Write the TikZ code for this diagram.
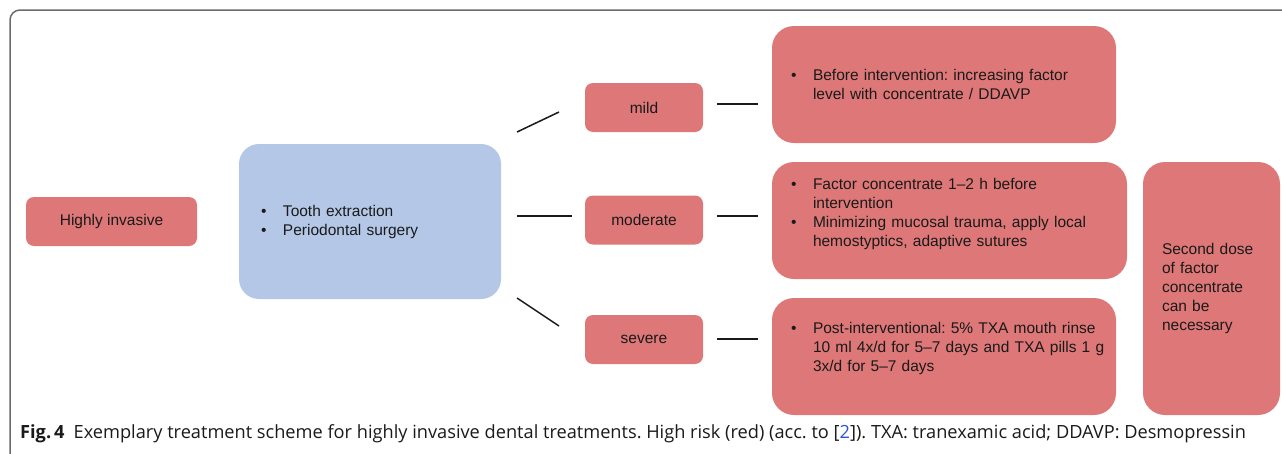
\documentclass[tikz,border=0pt]{standalone}
\usepackage{fontspec}
\setmainfont{Liberation Sans}
\newfontfamily\capfont{Open Sans}
\usepackage{xcolor}
\usepackage{tikz}
\usetikzlibrary{positioning}
\definecolor{riskred}{HTML}{DE7777}
\definecolor{procblue}{HTML}{B4C7E7}
\definecolor{framegray}{HTML}{6B6B6B}
\definecolor{inkdark}{HTML}{1A1A1A}
\definecolor{linkblue}{HTML}{2E55D6}
\newcommand{\bul}{\hspace*{5pt}\makebox[22pt][l]{\textbullet}}
\newcommand{\ind}{\hspace*{27pt}}
\tikzset{
  riskbox/.style={
    rectangle, rounded corners=8pt, fill=riskred, text=inkdark,
    minimum height=49pt, inner sep=0pt,
    font=\fontsize{15.5}{19}\selectfont
  },
  gradebox/.style={riskbox, minimum width=118pt},
  notebox/.style={
    riskbox, rounded corners=22pt, minimum height=117pt,
    align=left, inner xsep=14pt
  },
  procbox/.style={
    riskbox, fill=procblue, rounded corners=20pt, minimum height=155pt,
    align=left, inner xsep=17pt, text width=228pt
  },
  seg/.style={line width=1.5pt, color=inkdark},
}

\begin{document}
\frenchspacing
\begin{tikzpicture}[x=1pt,y=-1pt]
  \useasboundingbox (0,0) rectangle (1282,453);
  \draw[framegray, line width=1.5pt, rounded corners=10pt] (10,460) -- (10,10) -- (1282,10);

  \node[riskbox, minimum width=171pt] (invasive) at (111.5,221.5) {Highly invasive};
  \node[procbox] (surgery) at (370,221.5) {\bul Tooth extraction\\\bul Periodontal surgery};

  \node[gradebox] (mild) at (644,107.5) {mild};
  \node[gradebox] (moderate) at (644,220) {moderate};
  \node[gradebox] (severe) at (644,339.5) {severe};

  \node[notebox, text width=316pt] (mildtx) at (944,84.5)
    {\bul Before intervention: increasing factor\\\ind level with concentrate / DDAVP};
  \node[notebox, text width=327pt] (moderatetx) at (949.5,220.5)
    {\bul Factor concentrate 1--2 h before\\\ind intervention\\\bul Minimizing mucosal trauma, apply local\\\ind hemostyptics, adaptive sutures\par\vspace{14pt}};
  \node[notebox, text width=316pt] (severetx) at (944,356.5)
    {\bul\mbox{Post-interventional: 5\% TXA mouth rinse}\\\ind\mbox{10 ml 4x/d for 5--7 days and TXA pills 1 g}\\\ind 3x/d for 5--7 days\par\vspace{17pt}};
  \node[notebox, inner xsep=19pt, text width=99pt, minimum height=253pt] (second) at (1211.5,288.5)
    {Second dose\\of factor\\concentrate\\can be\\necessary};

  \coordinate (upA) at (517,132);
  \coordinate (upB) at (559,112);
  \coordinate (midA) at (517,216);
  \coordinate (midB) at (572,216);
  \coordinate (lowA) at (517,298);
  \coordinate (lowB) at (559,326);
  \coordinate (mildA) at (717,104);
  \coordinate (mildB) at (758,104);
  \coordinate (modA) at (717,216);
  \coordinate (modB) at (758,216);
  \coordinate (sevA) at (717,339);
  \coordinate (sevB) at (758,339);

  \draw[seg] (upA) -- (upB);
  \draw[seg] (midA) -- (midB);
  \draw[seg] (lowA) -- (lowB);
  \draw[seg] (mildA) -- (mildB);
  \draw[seg] (modA) -- (modB);
  \draw[seg] (sevA) -- (sevB);

  \node[anchor=base west, inner sep=0pt, text=inkdark, font=\capfont\fontsize{18.2}{21}\selectfont] (caption) at (20,438)
    {\textbf{Fig.\,4}\hspace{9pt}Exemplary treatment scheme for highly invasive dental treatments. High risk (red) (acc. to [\textcolor{linkblue}{2}]). TXA: tranexamic acid; DDAVP: Desmopressin};
\end{tikzpicture}
\end{document}
